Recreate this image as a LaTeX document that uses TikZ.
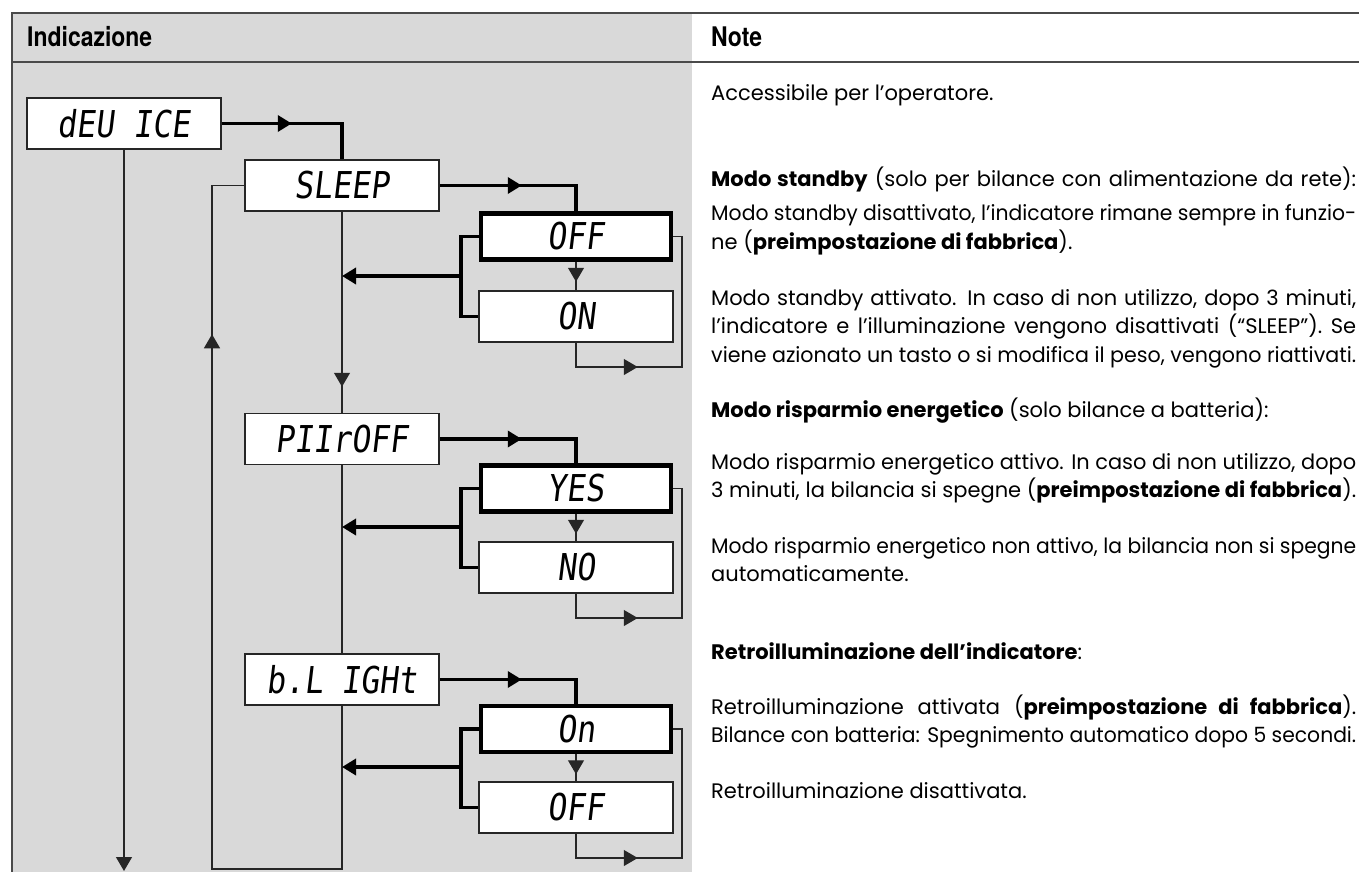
\documentclass[tikz,border=0pt]{standalone}
\usepackage{fontspec}
\usepackage{graphicx}
\setmainfont{Poppins}
\newfontfamily\hdrfont[FakeStretch=0.85]{TeX Gyre Heros}
\newfontfamily\segfont[FakeSlant=0.12,FakeStretch=0.85]{DejaVu Sans Mono}
\usetikzlibrary{arrows.meta,decorations.markings}

\definecolor{panelgray}{HTML}{D9D9D9}
\definecolor{rulegray}{HTML}{4A4A4A}

% one justified line of the note column (645pt wide)
\newsavebox\fitbox
\newcommand\fitline[1]{\sbox\fitbox{#1}%
  \ifdim\wd\fitbox>645pt\resizebox{645pt}{\height}{\usebox\fitbox}%
  \else\makebox[645pt][s]{#1}\fi}

\begin{document}
\begin{tikzpicture}[x=1pt,y=-1pt,
  tipshape/.tip={Triangle[length=14pt,width=16pt]},
  rule/.style={draw=rulegray,line width=2.4pt},
  thinc/.style={draw=black!85,line width=1.3pt},
  thickc/.style={draw=black,line width=3.5pt},
  arrowat/.style={postaction={decorate,decoration={markings,
      mark=at position #1 with {\arrow{tipshape}}}}},
  seg/.style={font=\segfont\fontsize{37}{37}\selectfont},
  dispbox/.style={draw=black!85,line width=1.5pt,fill=white,
      minimum width=194pt,minimum height=51pt,inner sep=0pt,seg},
  selbox/.style={draw=black,line width=4.5pt,fill=white,
      minimum width=190pt,minimum height=46pt,inner sep=0pt,seg},
  hdr/.style={font=\hdrfont\bfseries\fontsize{27}{27}\selectfont,
      anchor=base west,inner sep=0pt},
  note/.style={font=\fontsize{21}{28}\selectfont,anchor=base west,inner sep=0pt}
]
\useasboundingbox (0,0) rectangle (1359,872);
\fill[white] (0,0) rectangle (1359,872);

% table frame: grey display column and header rules
\fill[panelgray] (12,13) rectangle (692,872);
\draw[rule] (12,872) -- (12,13) -- (1359,13);
\draw[rule] (12,62) -- (1359,62);

\node[hdr] (hleft) at (27,47) {Indicazione};
\node[hdr] (hright) at (711,47) {Note};

% display boxes
\node[dispbox] (dev)   at (124,123.5) {dEU ICE};
\node[dispbox] (sleep) at (342,185.5) {SLEEP};
\node[selbox]  (off1)  at (576,236.5) {OFF};
\node[dispbox] (on1)   at (576,316.5) {ON};
\node[dispbox] (pwr)   at (342,439)   {PIIrOFF};
\node[selbox]  (yes)   at (576,488.5) {YES};
\node[dispbox] (no)    at (576,567.5) {NO};
\node[dispbox] (bl)    at (342,679.5) {b.L IGHt};
\node[selbox]  (on3)   at (576,729)   {On};
\node[dispbox] (off3)  at (576,807.5) {OFF};

% corner points of the loops
\coordinate (r1) at (682,367);
\coordinate (r2) at (682,618);
\coordinate (r3) at (682,858);
\coordinate (b1) at (461,276);
\coordinate (b2) at (461,527);
\coordinate (b3) at (461,767);
\coordinate (ret) at (212,869);
\coordinate (devend) at (124,871);

% main menu column
\draw[thickc,arrowat=70pt] (dev.east) -| (sleep.north);
\draw[thinc,-tipshape] (dev.south) -- (devend);
\draw[thinc,arrowat=175pt] (sleep.south) -- (pwr.north);
\draw[thinc] (pwr.south) -- (bl.north);
\draw[thinc,arrowat=828pt] (bl.south) |- (ret) |- (sleep.west);

% SLEEP options
\draw[thickc,arrowat=82pt] (sleep.east) -| (off1.north);
\draw[thinc,arrowat=20pt] (off1.south) -- (on1.north);
\draw[thinc,arrowat=86pt] (on1.south) |- (r1) |- (off1.east);
\draw[thickc] (off1.west) -| (b1) |- (on1.west);
\draw[thickc,-tipshape] (b1) -- (b1 -| sleep.south);

% PWROFF options
\draw[thickc,arrowat=82pt] (pwr.east) -| (yes.north);
\draw[thinc,arrowat=20pt] (yes.south) -- (no.north);
\draw[thinc,arrowat=86pt] (no.south) |- (r2) |- (yes.east);
\draw[thickc] (yes.west) -| (b2) |- (no.west);
\draw[thickc,-tipshape] (b2) -- (b2 -| pwr.south);

% backlight options
\draw[thickc,arrowat=82pt] (bl.east) -| (on3.north);
\draw[thinc,arrowat=20pt] (on3.south) -- (off3.north);
\draw[thinc,arrowat=86pt] (off3.south) |- (r3) |- (on3.east);
\draw[thickc] (on3.west) -| (b3) |- (off3.west);
\draw[thickc,-tipshape] (b3) -- (b3 -| bl.south);

% notes column
\node[note] (t1)  at (711,101) {Accessibile per l’operatore.};
\node[note] (t2)  at (711,186) {\fitline{\textbf{Modo standby} (solo per bilance con alimentazione da rete):}};
\node[note] (t3)  at (711,220) {\fitline{Modo standby disattivato, l’indicatore rimane sempre in funzio-}};
\node[note] (t4)  at (711,249) {ne (\textbf{preimpostazione di fabbrica}).};
\node[note] (t5)  at (711,305) {\fitline{Modo standby attivato. In caso di non utilizzo, dopo 3 minuti,}};
\node[note] (t6)  at (711,333) {\fitline{l’indicatore e l’illuminazione vengono disattivati (“SLEEP”). Se}};
\node[note] (t7)  at (711,362) {\fitline{viene azionato un tasto o si modifica il peso, vengono riattivati.}};
\node[note] (t8)  at (711,417) {\textbf{Modo risparmio energetico} (solo bilance a batteria):};
\node[note] (t9)  at (711,469) {\fitline{Modo risparmio energetico attivo. In caso di non utilizzo, dopo}};
\node[note] (t10) at (711,497) {\fitline{3 minuti, la bilancia si spegne (\textbf{preimpostazione di fabbrica}).}};
\node[note] (t11) at (711,553) {\fitline{Modo risparmio energetico non attivo, la bilancia non si spegne}};
\node[note] (t12) at (711,581) {automaticamente.};
\node[note] (t13) at (711,659) {\textbf{Retroilluminazione dell’indicatore}:};
\node[note] (t14) at (711,714) {\fitline{Retroilluminazione attivata (\textbf{preimpostazione di fabbrica}).}};
\node[note] (t15) at (711,742) {\fitline{Bilance con batteria: Spegnimento automatico dopo 5 secondi.}};
\node[note] (t16) at (711,798) {Retroilluminazione disattivata.};
\end{tikzpicture}
\end{document}
